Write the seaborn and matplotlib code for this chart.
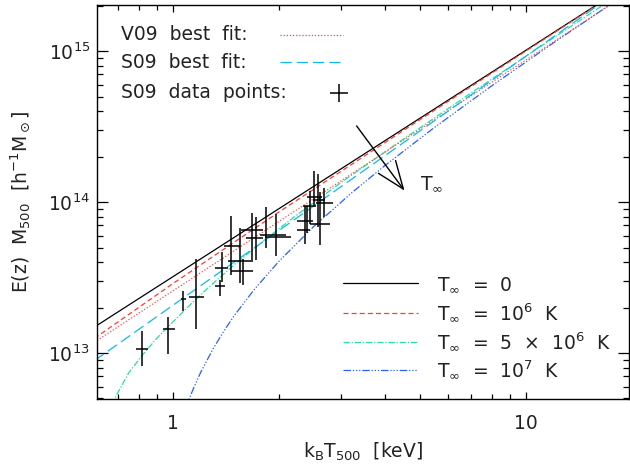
import numpy as np
import pandas as pd
import matplotlib
matplotlib.use("Agg")
import matplotlib.pyplot as plt
from matplotlib import ticker
import seaborn as sns

# ---- model curves: E(z) M500 [h^-1 Msun] against k_B T500 [keV] ----
T_zero = [0.6, 20.0]
M_zero = [1.487e13, 2.862e15]

T_1e6 = [0.6, 1.0, 2.0, 5.0, 10.0, 20.0]
M_1e6 = [1.25e13, 2.88e13, 8.6e13, 3.50e14, 1.0e15, 2.85e15]

T_5e6 = [0.66, 0.69, 0.75, 0.82, 0.9, 1.0, 1.15, 1.3, 1.5, 1.8, 2.2, 3.0,
         4.5, 7.0, 12.0, 20.0]
M_5e6 = [3.84e12, 5.17e12, 7.38e12, 9.68e12, 1.248e13, 1.603e13, 2.22e13,
         2.89e13, 3.88e13, 5.49e13, 7.92e13, 1.351e14, 2.61e14, 5.28e14,
         1.227e15, 2.70e15]

T_1e7 = [1.08, 1.10, 1.12, 1.15, 1.2, 1.3, 1.4, 1.5, 1.7, 2.0, 2.5, 3.2,
         4.0, 5.5, 8.0, 12.0, 20.0]
M_1e7 = [4.10e12, 4.62e12, 5.16e12, 5.98e12, 7.46e12, 1.064e13, 1.416e13,
         1.795e13, 2.63e13, 4.06e13, 6.84e13, 1.143e14, 1.754e14, 3.11e14,
         5.88e14, 1.138e15, 2.547e15]

# best-fit scaling relations
T_v09 = [0.6, 20.0]
M_v09 = [1.18e13, 2.52e15]
T_s09 = [0.6, 20.0]
M_s09 = [8.9e12, 2.9e15]

# S09 cluster/group measurements with asymmetric errors
T_pts = [0.818, 0.970, 1.072, 1.160, 1.359, 1.374, 1.466, 1.548, 1.582, 1.671,
         1.726, 1.842, 1.958, 2.366, 2.392, 2.455, 2.513, 2.580, 2.609, 2.678]
T_lo = [0.789, 0.937, 1.054, 1.112, 1.315, 1.315, 1.398, 1.431, 1.466, 1.565,
        1.617, 1.764, 1.822, 2.249, 2.249, 2.331, 2.392, 2.497, 2.444, 2.553]
T_hi = [0.851, 1.013, 1.093, 1.224, 1.404, 1.434, 1.548, 1.685, 1.688, 1.803,
        1.803, 2.099, 2.155, 2.455, 2.497, 2.553, 2.638, 2.700, 2.785, 2.846]
M_pts = [1.06e13, 1.44e13, 2.28e13, 2.35e13, 2.78e13, 3.64e13, 5.1e13, 4.07e13,
         3.49e13, 6.53e13, 5.75e13, 6.05e13, 5.84e13, 6.53e13, 7.52e13, 9.41e13,
         1.08e14, 1.03e14, 7.15e13, 9.89e13]
M_lo = [8.2e12, 9.8e12, 1.90e13, 1.44e13, 2.40e13, 2.97e13, 3.3e13, 2.91e13,
        2.82e13, 4.13e13, 4.13e13, 4.98e13, 4.41e13, 5.27e13, 6.20e13, 7.15e13,
        9.41e13, 6.86e13, 5.19e13, 7.92e13]
M_hi = [1.40e13, 1.72e13, 2.59e13, 4.17e13, 3.04e13, 4.69e13, 8.1e13, 6.73e13,
        4.17e13, 8.42e13, 7.99e13, 9.22e13, 8.29e13, 9.45e13, 9.41e13, 1.19e14,
        1.61e14, 1.53e14, 1.17e14, 1.23e14]

tinf_labels = [r"T$_\infty$  =  0",
               r"T$_\infty$  =  10$^6$  K",
               r"T$_\infty$  =  5  $\times$  10$^6$  K",
               r"T$_\infty$  =  10$^7$  K"]
fit_labels = ["V09  best  fit:", "S09  best  fit:", "S09  data  points:"]

styles = {
    "zero": dict(color="black", linestyle="-", lw=0.9),
    "1e6": dict(color="#ff3b2f", linestyle=(0, (4, 2.5)), lw=0.9),
    "5e6": dict(color="#22e39a", linestyle=(0, (5, 1.5, 1, 1.5)), lw=0.9),
    "1e7": dict(color="#2a5fff", linestyle=(0, (6, 1.5, 1, 1.5, 1, 1.5, 1, 1.5)), lw=0.9),
    "v09": dict(color="#ff4a4a", linestyle=(0, (1, 1.5)), lw=0.9),
    "s09": dict(color="#10b8f0", linestyle=(0, (9, 4)), lw=0.9),
}

sns.set_theme(style="ticks")
plt.rcParams["font.family"] = ["DejaVu Sans"]
plt.rcParams["mathtext.fontset"] = "dejavusans"
FS = 13.5

fig = plt.figure(figsize=(6.3, 4.68), dpi=100)
ax = fig.add_axes([97 / 630, 1 - 399 / 468, 532 / 630, 394 / 468])
ax.set_xscale("log")
ax.set_yscale("log")

curves = [(T_zero, M_zero, "zero"), (T_1e6, M_1e6, "1e6"), (T_5e6, M_5e6, "5e6"),
          (T_1e7, M_1e7, "1e7"), (T_v09, M_v09, "v09"), (T_s09, M_s09, "s09")]
for T, M, key in curves:
    sns.lineplot(x=T, y=M, ax=ax, sort=False, estimator=None, legend=False,
                 **styles[key])

T_arr, M_arr = np.array(T_pts), np.array(M_pts)
ax.errorbar(T_arr, M_arr,
            xerr=[T_arr - np.array(T_lo), np.array(T_hi) - T_arr],
            yerr=[M_arr - np.array(M_lo), np.array(M_hi) - M_arr],
            fmt="none", ecolor="black", elinewidth=1.1, capsize=0, zorder=5)

ax.set_xlim(0.61, 19.6)
ax.set_ylim(4.96e12, 2.02e15)

ax.xaxis.set_major_locator(ticker.FixedLocator([1, 10]))
ax.xaxis.set_major_formatter(ticker.FixedFormatter(["1", "10"]))
ax.xaxis.set_minor_locator(ticker.LogLocator(base=10, subs=np.arange(2, 10)))
ax.xaxis.set_minor_formatter(ticker.NullFormatter())
ax.yaxis.set_minor_formatter(ticker.NullFormatter())

ax.tick_params(which="both", direction="in", top=True, right=True,
               color="black", width=0.9, labelsize=FS, labelcolor="#222222")
ax.tick_params(axis="x", which="major", length=5, pad=11)
ax.tick_params(axis="x", which="minor", length=3.5)
ax.tick_params(axis="y", which="major", length=8, pad=5)
ax.tick_params(axis="y", which="minor", length=4.5)
for sp in ax.spines.values():
    sp.set_color("black")
    sp.set_linewidth(1.0)

ax.set_xlabel(r"k$_\mathrm{B}$T$_{500}$  [keV]", fontsize=FS, color="#222222",
              labelpad=5)
ax.set_ylabel(r"E(z)  M$_{500}$  [h$^{-1}$M$_\odot$]", fontsize=FS,
              color="#222222", labelpad=11)

# key for the best fits and data (upper left)
tr = ax.transAxes
rows_ul = [0.9112, 0.8401, 0.7640]
for lab, yb in zip(fit_labels, rows_ul):
    ax.text(0.0451, yb, lab, transform=tr, fontsize=FS, color="#222222",
            va="baseline", ha="left")
ax.plot([0.344, 0.4624], [0.9251, 0.9251], transform=tr, **styles["v09"])
ax.plot([0.344, 0.4624], [0.8546, 0.8546], transform=tr, **styles["s09"])
ax.plot([0.4549], [0.7774], transform=tr, marker="+", ms=13, mew=1.1,
        color="black", linestyle="none")

# key for the T_inf curves (lower right)
line_y = [0.2937, 0.2190, 0.1454, 0.0736]
text_y = [0.2766, 0.2020, 0.1284, 0.0566]
for key, ly, ty, lab in zip(["zero", "1e6", "5e6", "1e7"], line_y, text_y, tinf_labels):
    ax.plot([0.4618, 0.6039], [ly, ly], transform=tr, **styles[key])
    ax.text(0.6385, ty, lab, transform=tr, fontsize=FS, color="#222222",
            va="baseline", ha="left")

# arrow showing increasing T_inf
ax.annotate("", xy=(0.578, 0.529), xytext=(0.488, 0.693), xycoords=tr,
            textcoords=tr,
            arrowprops=dict(arrowstyle="->,head_length=0.9,head_width=0.35",
                            lw=1.0, color="black", mutation_scale=22,
                            shrinkA=0, shrinkB=0))
ax.text(0.607, 0.546, r"T$_\infty$", transform=tr, fontsize=FS,
        color="#222222", va="center", ha="left")

fig.savefig("out.png", dpi=100)
